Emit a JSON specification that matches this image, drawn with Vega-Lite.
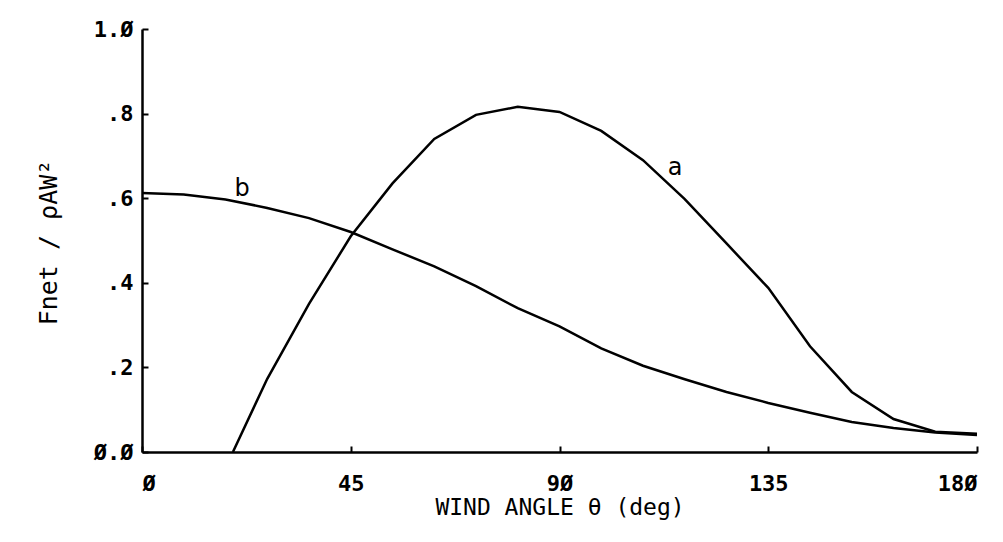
{
  "$schema": "https://vega.github.io/schema/vega-lite/v6.json",
  "autosize": {"type": "none"},
  "padding": {"left": 142, "top": 29, "right": 26, "bottom": 90},
  "width": 835,
  "height": 423,
  "background": "white",
  "config": {
    "view": {"stroke": null},
    "font": "DejaVu Sans Mono"
  },
  "datasets": {
    "curves": [
      {"series": "a", "angle": 19.6, "f": 0.0},
      {"series": "a", "angle": 27, "f": 0.173},
      {"series": "a", "angle": 36, "f": 0.35},
      {"series": "a", "angle": 45, "f": 0.51},
      {"series": "a", "angle": 54, "f": 0.635},
      {"series": "a", "angle": 63, "f": 0.74},
      {"series": "a", "angle": 72, "f": 0.797},
      {"series": "a", "angle": 81, "f": 0.816},
      {"series": "a", "angle": 90, "f": 0.804},
      {"series": "a", "angle": 99, "f": 0.759},
      {"series": "a", "angle": 108, "f": 0.69},
      {"series": "a", "angle": 117, "f": 0.598},
      {"series": "a", "angle": 126, "f": 0.493},
      {"series": "a", "angle": 135, "f": 0.388},
      {"series": "a", "angle": 144, "f": 0.25},
      {"series": "a", "angle": 153, "f": 0.142},
      {"series": "a", "angle": 162, "f": 0.078},
      {"series": "a", "angle": 171, "f": 0.048},
      {"series": "a", "angle": 180, "f": 0.043},
      {"series": "b", "angle": 0, "f": 0.612},
      {"series": "b", "angle": 9, "f": 0.609},
      {"series": "b", "angle": 18, "f": 0.597},
      {"series": "b", "angle": 27, "f": 0.577},
      {"series": "b", "angle": 36, "f": 0.553},
      {"series": "b", "angle": 45, "f": 0.52},
      {"series": "b", "angle": 54, "f": 0.479},
      {"series": "b", "angle": 63, "f": 0.439},
      {"series": "b", "angle": 72, "f": 0.392},
      {"series": "b", "angle": 81, "f": 0.34},
      {"series": "b", "angle": 90, "f": 0.297},
      {"series": "b", "angle": 99, "f": 0.245},
      {"series": "b", "angle": 108, "f": 0.204},
      {"series": "b", "angle": 117, "f": 0.172},
      {"series": "b", "angle": 126, "f": 0.142},
      {"series": "b", "angle": 135, "f": 0.116},
      {"series": "b", "angle": 144, "f": 0.093},
      {"series": "b", "angle": 153, "f": 0.071},
      {"series": "b", "angle": 162, "f": 0.057},
      {"series": "b", "angle": 171, "f": 0.046},
      {"series": "b", "angle": 180, "f": 0.04}
    ],
    "labels": [
      {"label": "a", "angle": 114.9, "f": 0.671},
      {"label": "b", "angle": 21.6, "f": 0.622}
    ]
  },
  "layer": [
    {
      "data": {"name": "curves"},
      "mark": {"type": "line", "color": "black", "strokeWidth": 2.5, "clip": false},
      "encoding": {
        "x": {
          "field": "angle", "type": "quantitative",
          "scale": {"domain": [0, 180], "nice": false, "zero": false},
          "axis": {
            "title": "WIND ANGLE θ (deg)",
            "values": [0, 45, 90, 135, 180],
            "labelExpr": "datum.value == 0 ? 'Ø' : datum.value == 90 ? '9Ø' : datum.value == 180 ? '18Ø' : datum.label",
            "grid": false,
            "domainColor": "black", "domainWidth": 2.5,
            "tickColor": "black", "tickWidth": 2, "tickSize": -6,
            "labelPadding": 27, "labelDx": 7,
            "labelFont": "DejaVu Sans Mono", "labelFontSize": 22, "labelFontWeight": "bold", "labelColor": "black",
            "titleFont": "DejaVu Sans Mono", "titleFontSize": 23, "titleFontWeight": "normal", "titleColor": "black",
            "titleBaseline": "middle", "titleY": 55
          }
        },
        "y": {
          "field": "f", "type": "quantitative",
          "scale": {"domain": [0, 1], "nice": false},
          "axis": {
            "title": "Fnet / ρAW²",
            "values": [0, 0.2, 0.4, 0.6, 0.8, 1.0],
            "labelExpr": "datum.value == 0 ? 'Ø.Ø' : datum.value == 1 ? '1.Ø' : '.' + round(datum.value * 10)",
            "grid": false,
            "domainColor": "black", "domainWidth": 2.5,
            "tickColor": "black", "tickWidth": 2, "tickSize": -6,
            "labelPadding": 15,
            "labelFont": "DejaVu Sans Mono", "labelFontSize": 22, "labelFontWeight": "bold", "labelColor": "black",
            "titleFont": "DejaVu Sans Mono", "titleFontSize": 25, "titleFontWeight": "normal", "titleColor": "black",
            "titleAngle": 270, "titleBaseline": "middle", "titleAlign": "center",
            "titleX": -94, "titleY": 213
          }
        },
        "detail": {"field": "series", "type": "nominal"}
      }
    },
    {
      "data": {"name": "labels"},
      "mark": {"type": "text", "font": "DejaVu Sans", "fontSize": 24, "color": "black", "align": "center", "baseline": "middle"},
      "encoding": {
        "x": {"field": "angle", "type": "quantitative"},
        "y": {"field": "f", "type": "quantitative"},
        "text": {"field": "label", "type": "nominal"}
      }
    }
  ]
}
